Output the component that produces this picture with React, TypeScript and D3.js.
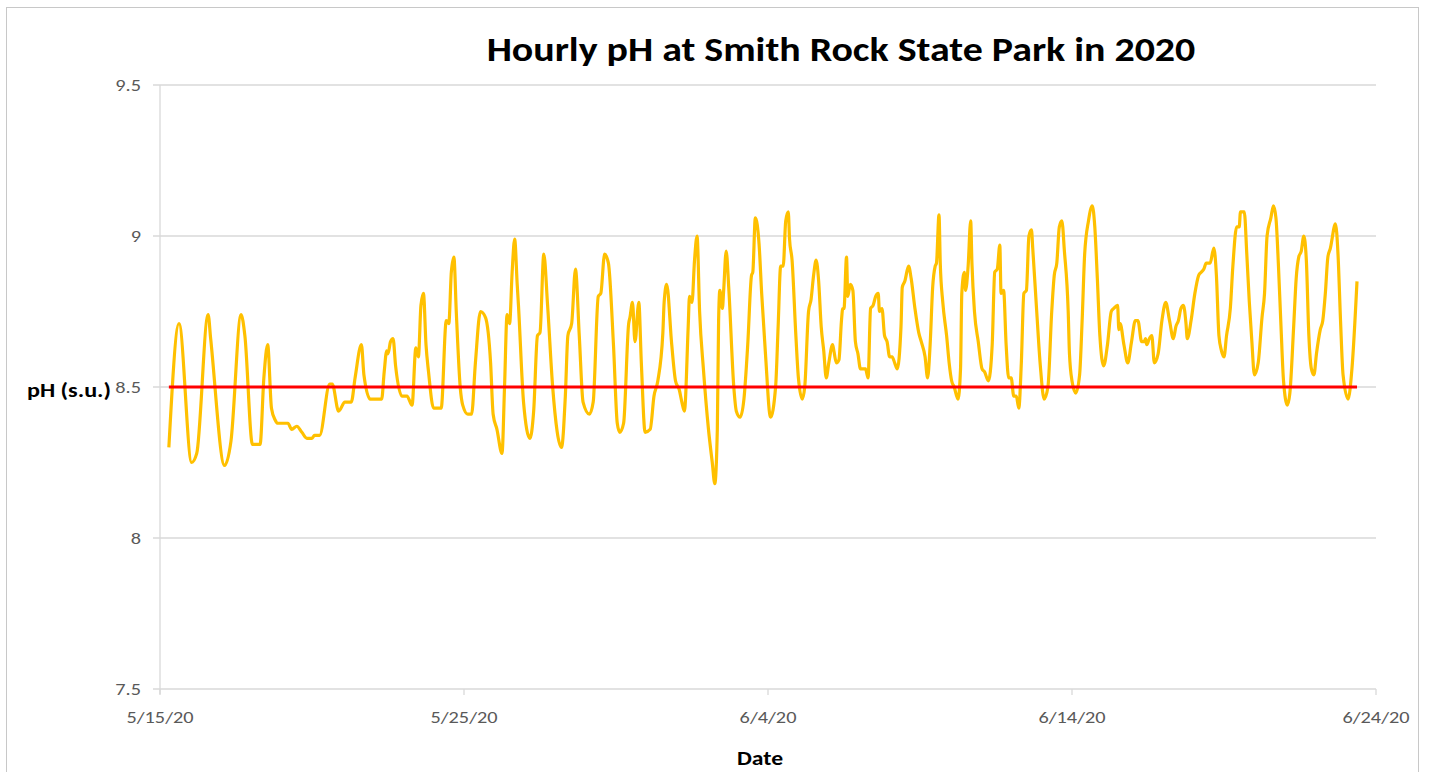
import * as d3 from "d3";

// hours since 5/15/20 00:00
const hours = [
  7, 15, 25, 29, 38, 40, 51, 56, 64, 67, 73, 79, 82, 85, 88, 91, 93, 97, 101, 104,
  108, 112, 116, 120, 122, 126, 134, 136, 141, 146, 151, 154, 159, 161, 166, 175, 177, 179, 180, 182,
  184, 186, 191, 195, 199, 202, 204, 206, 208, 210, 212, 216, 222, 226, 228, 230, 232, 234, 237, 239,
  243, 246, 249, 253, 257, 261, 263, 266, 270, 272, 274, 276, 278, 280, 282, 283, 287, 292, 295, 298,
  300, 303, 306, 310, 317, 320, 322, 325, 328, 331, 334, 339, 342, 346, 348, 351, 354, 358, 361, 363,
  366, 370, 371, 373, 375, 378, 380, 383, 387, 390, 393, 397, 398, 400, 404, 407, 410, 412, 414, 417,
  418, 420, 422, 424, 426, 429, 433, 436, 438, 440, 441, 442, 444, 445, 447, 449, 453, 455, 458, 461,
  464, 467, 468, 470, 473, 475, 478, 482, 486, 488, 490, 492, 494, 496, 497, 499, 502, 504, 507, 509,
  512, 514, 516, 518, 520, 522, 524, 526, 528, 531, 532, 534, 536, 538, 539, 540, 542, 543, 545, 547,
  549, 551, 553, 557, 559, 561, 563, 565, 567, 568, 570, 572, 574, 576, 578, 580, 582, 585, 586, 588,
  591, 593, 596, 599, 601, 604, 606, 608, 610, 612, 613, 615, 616, 618, 621, 623, 625, 627, 630, 632,
  633, 635, 636, 638, 640, 641, 643, 646, 649, 651, 654, 657, 659, 661, 663, 664, 666, 668, 670, 672,
  674, 676, 678, 680, 682, 684, 686, 688, 689, 692, 695, 698, 701, 704, 706, 708, 710, 712, 714, 717,
  718, 720, 723, 726, 728, 730, 733, 736, 738, 740, 742, 745, 748, 751, 753, 756, 757, 758, 761, 764,
  767, 770, 772, 775, 777, 778, 779, 781, 783, 785, 788, 791, 794, 797, 800, 802, 804, 806, 808, 810,
  811, 814, 817, 820, 822, 824, 826, 828, 829, 832, 834, 836, 838, 840, 842, 845, 847, 850, 852, 853,
  856, 858, 860, 862, 864, 867, 870, 872, 874, 877, 879, 881, 883, 885, 887, 890, 892, 895, 897, 899,
  901, 903, 905, 907, 909, 911, 913, 916, 918, 920, 922, 924, 928, 930, 932, 934, 938, 941, 945,
];

const ph = [
  8.30, 8.71, 8.25, 8.28, 8.74, 8.66, 8.24, 8.32, 8.74, 8.67, 8.31, 8.31, 8.53, 8.64, 8.43, 8.39, 8.38, 8.38, 8.38, 8.36,
  8.37, 8.35, 8.33, 8.33, 8.34, 8.34, 8.51, 8.51, 8.42, 8.45, 8.45, 8.53, 8.64, 8.54, 8.46, 8.46, 8.55, 8.62, 8.61, 8.65,
  8.66, 8.57, 8.47, 8.47, 8.44, 8.63, 8.60, 8.77, 8.81, 8.64, 8.55, 8.43, 8.43, 8.72, 8.71, 8.88, 8.93, 8.74, 8.50, 8.44,
  8.41, 8.41, 8.58, 8.75, 8.73, 8.58, 8.41, 8.36, 8.28, 8.50, 8.74, 8.71, 8.88, 8.99, 8.84, 8.77, 8.45, 8.33, 8.42, 8.67,
  8.68, 8.94, 8.77, 8.50, 8.30, 8.47, 8.67, 8.71, 8.89, 8.67, 8.45, 8.41, 8.45, 8.80, 8.81, 8.94, 8.91, 8.64, 8.38, 8.35,
  8.38, 8.71, 8.73, 8.78, 8.65, 8.78, 8.58, 8.35, 8.36, 8.47, 8.52, 8.68, 8.78, 8.84, 8.64, 8.52, 8.49, 8.45, 8.42, 8.70,
  8.80, 8.78, 8.92, 9.00, 8.75, 8.56, 8.36, 8.25, 8.18, 8.36, 8.72, 8.82, 8.76, 8.82, 8.95, 8.83, 8.50, 8.42, 8.40, 8.46,
  8.64, 8.87, 8.88, 9.06, 8.97, 8.81, 8.61, 8.40, 8.50, 8.70, 8.90, 8.90, 9.05, 9.08, 8.99, 8.92, 8.67, 8.53, 8.46, 8.50,
  8.75, 8.79, 8.87, 8.92, 8.85, 8.70, 8.62, 8.53, 8.58, 8.64, 8.62, 8.58, 8.59, 8.72, 8.76, 8.76, 8.93, 8.80, 8.84, 8.82,
  8.65, 8.61, 8.56, 8.56, 8.53, 8.76, 8.77, 8.80, 8.81, 8.75, 8.76, 8.67, 8.65, 8.60, 8.60, 8.58, 8.56, 8.70, 8.83, 8.85,
  8.90, 8.86, 8.76, 8.68, 8.65, 8.60, 8.53, 8.64, 8.83, 8.90, 8.91, 9.07, 8.91, 8.78, 8.67, 8.58, 8.52, 8.50, 8.46, 8.56,
  8.81, 8.88, 8.82, 8.90, 9.05, 8.91, 8.75, 8.65, 8.56, 8.55, 8.52, 8.64, 8.88, 8.89, 8.97, 8.81, 8.82, 8.64, 8.53, 8.53,
  8.47, 8.47, 8.43, 8.58, 8.81, 8.82, 9.00, 9.02, 8.96, 8.76, 8.57, 8.46, 8.50, 8.75, 8.87, 8.91, 9.03, 9.05, 8.95, 8.75,
  8.61, 8.52, 8.48, 8.54, 8.72, 8.94, 9.05, 9.10, 9.03, 8.86, 8.67, 8.57, 8.64, 8.75, 8.76, 8.77, 8.69, 8.71, 8.64, 8.58,
  8.65, 8.72, 8.72, 8.65, 8.65, 8.66, 8.64, 8.66, 8.67, 8.58, 8.61, 8.72, 8.78, 8.72, 8.66, 8.70, 8.72, 8.76, 8.77, 8.71,
  8.66, 8.72, 8.81, 8.87, 8.88, 8.89, 8.91, 8.91, 8.91, 8.96, 8.87, 8.67, 8.62, 8.60, 8.67, 8.76, 8.90, 9.03, 9.03, 9.08,
  9.08, 8.94, 8.78, 8.65, 8.54, 8.58, 8.73, 8.81, 9.00, 9.06, 9.10, 9.06, 8.90, 8.70, 8.52, 8.44, 8.48, 8.70, 8.86, 8.93,
  8.95, 9.00, 8.92, 8.67, 8.56, 8.54, 8.61, 8.69, 8.72, 8.81, 8.93, 8.96, 9.04, 8.94, 8.72, 8.54, 8.46, 8.56, 8.85,
];

const standard = 8.5;
const yTicks = [7.5, 8, 8.5, 9, 9.5];
const xTickDays = [0, 10, 20, 30, 40];

const font = "Carlito, Calibri, Lato, sans-serif";

// the source chart's lettering is a little wider than the fallback font, so stretch it
function Label(props: {
  x: number;
  y: number;
  sx: number;
  size: number;
  anchor: string;
  bold?: boolean;
  fill: string;
  dy?: string;
  children: any;
}) {
  return (
    <text
      transform={`translate(${props.x},${props.y}) scale(${props.sx},1)`}
      textAnchor={props.anchor}
      fontSize={props.size}
      fontWeight={props.bold ? "bold" : "normal"}
      fill={props.fill}
      dy={props.dy}
    >
      {props.children}
    </text>
  );
}

export default function App() {
  const width = 1429,
    height = 772;
  const left = 160,
    right = 1376,
    top = 85,
    bottom = 689;

  const start = new Date(2020, 4, 15);
  const toDate = (h: number) => d3.timeHour.offset(start, h);

  const x = d3
    .scaleTime()
    .domain([start, d3.timeDay.offset(start, 40)])
    .range([left, right]);
  const y = d3.scaleLinear().domain([7.5, 9.5]).range([bottom, top]);

  const data = hours.map((h, i) => ({ t: toDate(h), v: ph[i] }));

  const line = d3
    .line<{ t: Date; v: number }>()
    .x((d) => x(d.t))
    .y((d) => y(d.v))
    .curve(d3.curveMonotoneX);

  const limitLine = line([
    { t: toDate(hours[0]), v: standard },
    { t: toDate(hours[hours.length - 1]), v: standard },
  ]);

  const fmt = d3.timeFormat("%-m/%-d/%y");

  return (
    <svg
      width={width}
      height={height}
      style={{ position: "absolute", left: 0, top: 0, background: "#fff" }}
      fontFamily={font}
    >
      <rect x={6.5} y={7.5} width={1412} height={820} fill="#fff" stroke="#c8c8c8" />

      {yTicks.map((t) => (
        <g key={t}>
          <line x1={left - 7} x2={right} y1={y(t)} y2={y(t)} stroke="#d9d9d9" strokeWidth={1.3} />
          <Label x={141} y={y(t)} dy="0.35em" anchor="end" size={16} sx={1.27} fill="#595959">
            {t}
          </Label>
        </g>
      ))}

      <line x1={left} x2={left} y1={top} y2={bottom + 5} stroke="#d9d9d9" strokeWidth={1.3} />

      {xTickDays.map((d) => {
        const date = d3.timeDay.offset(start, d);
        return (
          <g key={d}>
            <line x1={x(date)} x2={x(date)} y1={bottom} y2={bottom + 6} stroke="#d9d9d9" strokeWidth={1.3} />
            <Label x={x(date)} y={723} anchor="middle" size={16} sx={1.27} fill="#595959">
              {fmt(date)}
            </Label>
          </g>
        );
      })}

      <path d={line(data) ?? ""} fill="none" stroke="#ffc000" strokeWidth={3.2} strokeLinejoin="round" />
      <path d={limitLine ?? ""} fill="none" stroke="#ff0000" strokeWidth={3} />

      <Label x={841} y={61} anchor="middle" size={35} sx={1.14} bold fill="#000">
        Hourly pH at Smith Rock State Park in 2020
      </Label>
      <Label x={69} y={397} anchor="middle" size={21} sx={1.15} bold fill="#000">
        pH (s.u.)
      </Label>
      <Label x={760} y={765} anchor="middle" size={20} sx={1.18} bold fill="#000">
        Date
      </Label>
    </svg>
  );
}
